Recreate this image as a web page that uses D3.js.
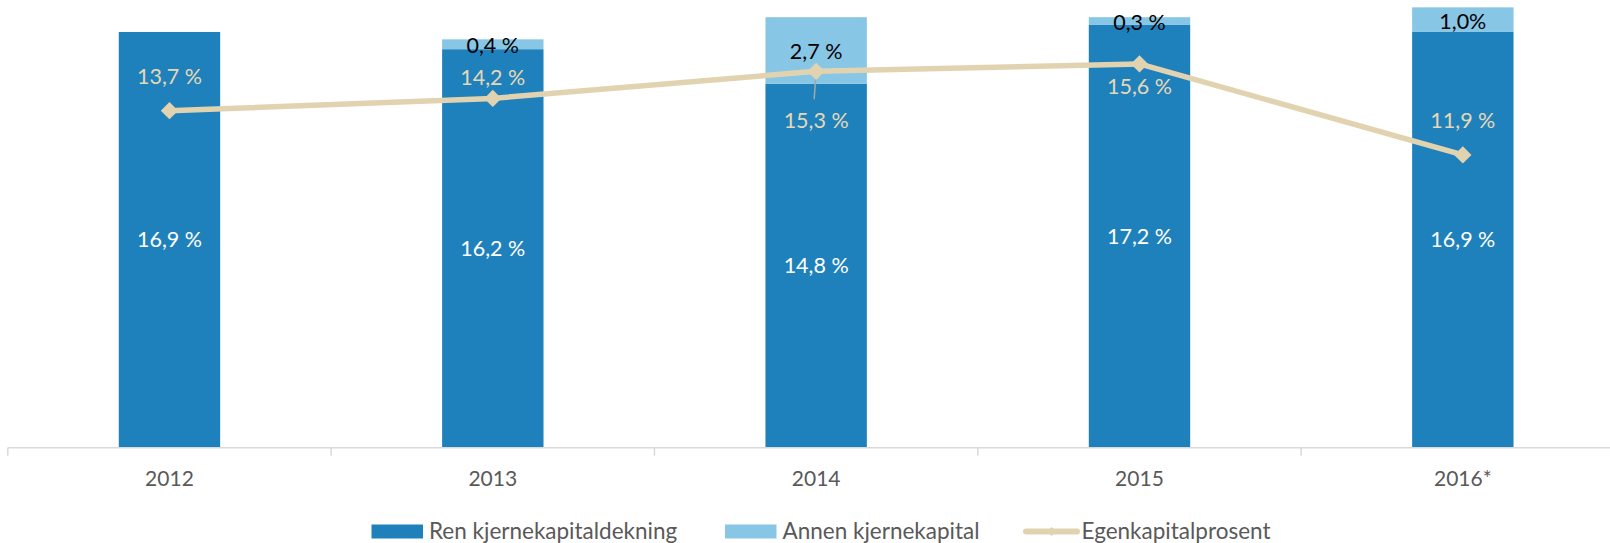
<!DOCTYPE html>
<html>
<head>
<meta charset="utf-8">
<script src="https://cdn.jsdelivr.net/npm/d3@7"></script>
<style>
  html, body { margin: 0; padding: 0; background: #fff; }
  svg { display: block; font-family: Lato, "Open Sans", sans-serif; }
</style>
</head>
<body>
<svg id="chart" width="1610" height="543"></svg>
<script>
// Kapitaldekning, prosent
const years = ["2012", "2013", "2014", "2015", "2016*"];
const renKjernekapital = [16.9, 16.2, 14.8, 17.2, 16.9];
const annenKjernekapital = [0, 0.4, 2.7, 0.3, 1.0];
const egenkapitalprosent = [13.7, 14.2, 15.3, 15.6, 11.9];
const annenLabels = ["", "0,4 %", "2,7 %", "0,3 %", "1,0%"];
const yTicks = [0, 18];

// vertical offset (px) of each Egenkapitalprosent label from its marker
const lineLabelOffset = [-34, -21, 49, 23, -34];

const colors = {
  ren: "#1F81BC",
  annen: "#88C6E6",
  egen: "#E2D3B0",
  egenText: "#E6D8B6",
  axis: "#D9D9D9",
  text: "#595959"
};

const svg = d3.select("#chart");

const x = d3.scaleBand()
  .domain(years)
  .range([7.8, 1624.5])
  .paddingInner(0.6864)
  .paddingOuter(0.6864 / 2);

const y = d3.scaleLinear()
  .domain(d3.extent(yTicks))
  .range([447.7, 447.7 - 18 * 24.6]);

const fmt = v => d3.format(".1f")(v).replace(".", ",") + " %";

const rows = years.map((yr, i) => ({
  yr,
  ren: renKjernekapital[i],
  annen: annenKjernekapital[i],
  egen: egenkapitalprosent[i],
  annenLabel: annenLabels[i],
  off: lineLabelOffset[i]
}));

const stack = d3.stack().keys(["ren", "annen"])(rows);

// stacked bars
svg.append("g")
  .selectAll("g")
  .data(stack)
  .join("g")
  .attr("fill", d => colors[d.key])
  .selectAll("rect")
  .data(d => d)
  .join("rect")
  .attr("x", d => x(d.data.yr))
  .attr("width", x.bandwidth())
  .attr("y", d => y(d[1]))
  .attr("height", d => Math.max(0, y(d[0]) - y(d[1])));

// x axis: baseline with ticks between categories
const axisG = svg.append("g");
const step = x.step();
const x0 = x.range()[0];
axisG.append("line")
  .attr("x1", x0).attr("x2", x.range()[1])
  .attr("y1", y(0)).attr("y2", y(0))
  .attr("stroke", colors.axis).attr("stroke-width", 1.5);
axisG.selectAll("line.tick")
  .data(d3.range(years.length + 1))
  .join("line")
  .attr("class", "tick")
  .attr("x1", i => x0 + i * step).attr("x2", i => x0 + i * step)
  .attr("y1", y(0)).attr("y2", y(0) + 8)
  .attr("stroke", colors.axis).attr("stroke-width", 1.5);
axisG.selectAll("text")
  .data(years)
  .join("text")
  .attr("x", d => x(d) + x.bandwidth() / 2)
  .attr("y", 478.5)
  .attr("dy", "0.35em")
  .attr("text-anchor", "middle")
  .attr("fill", colors.text)
  .attr("font-size", 21)
  .text(d => d);

// labels inside the dark segments
svg.append("g")
  .selectAll("text")
  .data(rows)
  .join("text")
  .attr("x", d => x(d.yr) + x.bandwidth() / 2)
  .attr("y", d => (y(0) + y(d.ren)) / 2)
  .attr("dy", "0.35em")
  .attr("text-anchor", "middle")
  .attr("fill", "#fff")
  .attr("font-size", 21.5)
  .text(d => fmt(d.ren));

// leader lines for labels placed far from their marker
const cx = d => x(d.yr) + x.bandwidth() / 2;
svg.append("g")
  .selectAll("line")
  .data(rows.filter(d => Math.abs(d.off) > 40))
  .join("line")
  .attr("x1", d => cx(d)).attr("y1", d => y(d.egen))
  .attr("x2", d => cx(d) - 2).attr("y2", d => y(d.egen) + d.off - 21)
  .attr("stroke", "#A6A6A6").attr("stroke-width", 1.5);

// Egenkapitalprosent line with diamond markers
const line = d3.line()
  .x(d => cx(d))
  .y(d => y(d.egen));
svg.append("path")
  .datum(rows)
  .attr("d", line)
  .attr("fill", "none")
  .attr("stroke", colors.egen)
  .attr("stroke-width", 5.5)
  .attr("stroke-linejoin", "round");

const diamond = d3.symbol(d3.symbolSquare, 150)();
svg.append("g")
  .selectAll("path")
  .data(rows)
  .join("path")
  .attr("d", diamond)
  .attr("transform", d => `translate(${cx(d)},${y(d.egen)}) rotate(45)`)
  .attr("fill", colors.egen);

// labels in the light segments
svg.append("g")
  .selectAll("text")
  .data(rows.filter(d => d.annenLabel))
  .join("text")
  .attr("x", d => cx(d))
  .attr("y", d => (y(d.ren) + y(d.ren + d.annen)) / 2 + 1.5)
  .attr("dy", "0.35em")
  .attr("text-anchor", "middle")
  .attr("fill", "#000")
  .attr("font-size", 21.5)
  .text(d => d.annenLabel);

// Egenkapitalprosent labels
svg.append("g")
  .selectAll("text")
  .data(rows)
  .join("text")
  .attr("x", d => cx(d))
  .attr("y", d => y(d.egen) + d.off)
  .attr("dy", "0.35em")
  .attr("text-anchor", "middle")
  .attr("fill", colors.egenText)
  .attr("font-size", 21.5)
  .text(d => fmt(d.egen));

// legend
const legend = svg.append("g").attr("font-size", 22.5).attr("fill", colors.text);
const legendItems = [
  { name: "Ren kjernekapitaldekning", type: "rect", color: colors.ren, x: 371.5 },
  { name: "Annen kjernekapital", type: "rect", color: colors.annen, x: 725 },
  { name: "Egenkapitalprosent", type: "line", color: colors.egen, x: 1024 }
];
const ly = 531.5;
legendItems.forEach(it => {
  const g = legend.append("g");
  if (it.type === "rect") {
    g.append("rect").attr("x", it.x).attr("y", ly - 7).attr("width", 51.5).attr("height", 14).attr("fill", it.color);
  } else {
    g.append("line").attr("x1", it.x + 2).attr("x2", it.x + 53).attr("y1", ly).attr("y2", ly)
      .attr("stroke", it.color).attr("stroke-width", 6).attr("stroke-linecap", "round");
    g.append("path").attr("d", d3.symbol(d3.symbolSquare, 40)())
      .attr("transform", `translate(${it.x + 27.5},${ly}) rotate(45)`).attr("fill", it.color);
  }
  g.append("text").attr("x", it.x + 57.5).attr("y", ly).attr("dy", "0.35em").text(it.name);
});
</script>
</body>
</html>
